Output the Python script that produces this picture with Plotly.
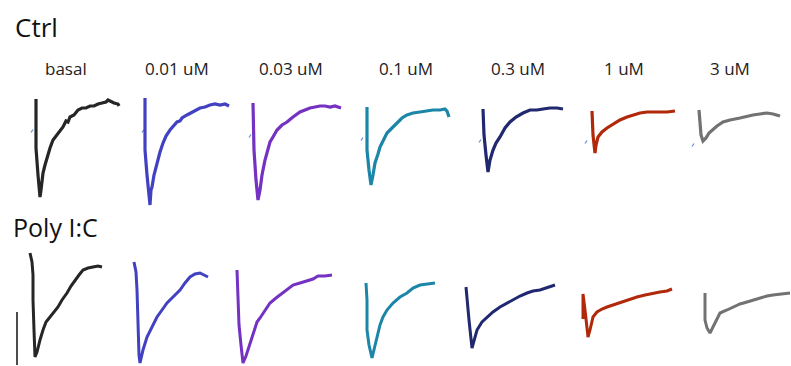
import plotly.graph_objects as go

W, H = 791, 366

# ---------------- data (time in ms from stimulus, current in pA) ----------------
conditions = ["basal", "0.01 uM", "0.03 uM", "0.1 uM", "0.3 uM", "1 uM", "3 uM"]
colors = ["#262626", "#4141c2", "#7431c2", "#1b86a8", "#20286f", "#b1290a", "#727272"]

# Ctrl row
ctrl_basal_t = [0, 0, 2, 4, 5, 7, 9, 12, 14, 17, 20, 22, 24, 27, 30, 32, 34, 38, 42, 46, 50, 54, 58, 62, 66, 70, 72, 74, 78, 82, 83]
ctrl_basal_pA = [320, -170, -440, -660, -590, -420, -340, -220, -170, -90, -50, -30, 10, 40, 100, 90, 140, 160, 210, 230, 230, 250, 250, 270, 280, 290, 310, 300, 280, 270, 250]
ctrl_001_t = [0, 0, 2, 4, 5, 6, 7, 9, 12, 15, 18, 21, 25, 28, 32, 35, 37, 42, 47, 51, 55, 60, 65, 70, 75, 80, 84]
ctrl_001_pA = [330, -190, -440, -640, -740, -590, -560, -440, -320, -210, -120, -50, 10, 40, 90, 100, 130, 160, 190, 210, 230, 240, 260, 270, 260, 270, 250]
ctrl_003_t = [0, 1, 3, 5, 7, 9, 12, 15, 17, 20, 24, 29, 34, 40, 47, 52, 57, 62, 67, 72, 77, 82, 88]
ctrl_003_pA = [280, -190, -490, -690, -590, -440, -290, -190, -110, -60, 10, 60, 90, 140, 190, 210, 230, 240, 250, 250, 240, 250, 230]
ctrl_01_t = [0, 0, 2, 4, 6, 8, 11, 13, 17, 20, 25, 30, 35, 40, 46, 53, 60, 66, 73, 78, 80, 82]
ctrl_01_pA = [240, -190, -390, -540, -440, -320, -230, -160, -80, -20, 30, 80, 130, 160, 180, 190, 200, 210, 210, 220, 200, 140]
ctrl_03_t = [0, 1, 3, 5, 7, 10, 13, 17, 22, 27, 33, 40, 47, 54, 60, 67, 74, 80]
ctrl_03_pA = [220, -40, -240, -410, -290, -190, -120, -60, 30, 90, 140, 180, 210, 210, 220, 230, 230, 220]
ctrl_1_t = [0, 1, 3, 4, 6, 10, 15, 21, 28, 35, 41, 48, 55, 61, 68, 75, 83]
ctrl_1_pA = [200, -40, -220, -140, -60, -10, 30, 70, 110, 140, 160, 180, 190, 190, 190, 190, 200]
ctrl_3_t = [0, 1, 2, 4, 7, 10, 13, 18, 24, 31, 41, 48, 54, 61, 68, 74, 81]
ctrl_3_pA = [210, 60, -40, -100, -70, -20, 10, 50, 90, 110, 130, 150, 160, 170, 180, 170, 150]

# stimulus artifact marks (Ctrl row)
ctrl_artifact_t = [-4, -2, -3, -5, -3, -6, -6]
ctrl_artifact_pA = [0, 0, -50, -80, -100, -110, -140]

# Poly I:C row
poly_basal_t = [0, 2, 3, 3, 4, 5, 5, 7, 8, 10, 13, 16, 20, 24, 28, 32, 37, 41, 45, 49, 53, 58, 63, 68, 72]
poly_basal_pA = [370, 280, 150, -100, -400, -600, -670, -620, -570, -500, -400, -320, -270, -220, -170, -100, -30, 40, 100, 150, 200, 220, 230, 240, 230]
poly_001_t = [0, 2, 3, 4, 5, 6, 9, 13, 18, 23, 28, 33, 39, 46, 51, 56, 61, 66, 70, 74]
poly_001_pA = [280, 180, 0, -400, -650, -730, -600, -470, -370, -270, -200, -130, -70, 0, 70, 130, 160, 170, 150, 130]
poly_003_t = [0, 1, 2, 4, 6, 9, 11, 15, 20, 23, 28, 33, 39, 46, 51, 56, 63, 70, 76, 81, 88, 95]
poly_003_pA = [200, -100, -350, -550, -730, -660, -600, -470, -320, -280, -200, -130, -80, -30, 10, 50, 70, 90, 110, 140, 140, 150]
poly_01_t = [0, 1, 1, 3, 6, 8, 11, 14, 17, 21, 27, 34, 41, 47, 54, 61, 69]
poly_01_pA = [70, -100, -400, -550, -680, -600, -470, -350, -270, -200, -130, -70, -30, 20, 50, 60, 70]
poly_03_t = [0, 1, 3, 6, 8, 11, 16, 21, 27, 34, 41, 47, 54, 61, 67, 74, 81, 89]
poly_03_pA = [30, -100, -300, -580, -500, -400, -320, -270, -220, -170, -130, -100, -60, -30, -10, 0, 20, 50]
poly_1_t = [0, 0, 2, 4, 5, 7, 10, 14, 19, 24, 30, 37, 45, 54, 62, 70, 77, 84, 89]
poly_1_pA = [-290, -40, -200, -380, -470, -400, -270, -220, -190, -170, -150, -120, -100, -70, -50, -30, -20, -10, 10]
poly_3_t = [0, 0, 2, 5, 8, 12, 15, 22, 28, 35, 42, 48, 55, 62, 68, 75, 81, 85]
poly_3_pA = [-30, -300, -380, -430, -370, -280, -230, -200, -170, -140, -120, -100, -80, -60, -50, -40, -30, -30]

# scale bar (pA) drawn left of the Poly I:C basal trace
scalebar_t = -13
scalebar_pA = [-220, -750]

ctrl_t = [ctrl_basal_t, ctrl_001_t, ctrl_003_t, ctrl_01_t, ctrl_03_t, ctrl_1_t, ctrl_3_t]
ctrl_pA = [ctrl_basal_pA, ctrl_001_pA, ctrl_003_pA, ctrl_01_pA, ctrl_03_pA, ctrl_1_pA, ctrl_3_pA]
poly_t = [poly_basal_t, poly_001_t, poly_003_t, poly_01_t, poly_03_t, poly_1_t, poly_3_t]
poly_pA = [poly_basal_pA, poly_001_pA, poly_003_pA, poly_01_pA, poly_03_pA, poly_1_pA, poly_3_pA]

# ---------------- layout (pixel placement of panels) ----------------
ctrl_onset_px = [36, 145, 253, 367, 483, 592, 699]
poly_onset_px = [30, 134, 237, 366, 466, 583, 705]
ms_per_px = 1.0
pA_per_px = 10.0
ctrl_base_px = 131
poly_base_px = 290
ctrl_band = (90, 215)
poly_band = (245, 366)
label_x_px = [66, 177, 291, 406, 518, 624, 730]

fig = go.Figure()
layout = dict(
    width=W, height=H, margin=dict(l=0, r=0, t=0, b=0),
    paper_bgcolor="white", plot_bgcolor="rgba(0,0,0,0)", showlegend=False,
)

def add_axes(idx, onset_px, base_px, band, t_lo=-10):
    t_hi = min(100, (W - onset_px) * ms_per_px)
    x0 = (onset_px + t_lo / ms_per_px) / W
    x1 = (onset_px + t_hi / ms_per_px) / W
    y_top = (base_px - band[0]) * pA_per_px
    y_bot = (base_px - band[1]) * pA_per_px
    sfx = "" if idx == 1 else str(idx)
    layout["xaxis" + sfx] = dict(domain=[max(0, x0), min(1, x1)], range=[t_lo, t_hi], visible=False,
                                 anchor="y" + sfx, fixedrange=True)
    layout["yaxis" + sfx] = dict(domain=[1 - band[1] / H, 1 - band[0] / H], range=[y_bot, y_top], visible=False,
                                 anchor="x" + sfx, fixedrange=True)
    return "x" + sfx, "y" + sfx

for i in range(7):
    xa, ya = add_axes(i + 1, ctrl_onset_px[i], ctrl_base_px, ctrl_band)
    fig.add_trace(go.Scatter(x=[ctrl_artifact_t[i] - 1, ctrl_artifact_t[i] + 1],
                             y=[ctrl_artifact_pA[i] - 15, ctrl_artifact_pA[i] + 15],
                             mode="lines", line=dict(color="#5a8ed8", width=1.2),
                             xaxis=xa, yaxis=ya, hoverinfo="skip"))
    fig.add_trace(go.Scatter(x=ctrl_t[i], y=ctrl_pA[i], mode="lines",
                             line=dict(color=colors[i], width=3.2), name="Ctrl " + conditions[i],
                             xaxis=xa, yaxis=ya))

for i in range(7):
    t_lo = -16 if i == 0 else -10
    xa, ya = add_axes(i + 8, poly_onset_px[i], poly_base_px, poly_band, t_lo=t_lo)
    fig.add_trace(go.Scatter(x=poly_t[i], y=poly_pA[i], mode="lines",
                             line=dict(color=colors[i], width=3.0), name="Poly I:C " + conditions[i],
                             xaxis=xa, yaxis=ya))
    if i == 0:
        fig.add_trace(go.Scatter(x=[scalebar_t, scalebar_t], y=scalebar_pA, mode="lines",
                                 line=dict(color="#111111", width=1.5), xaxis=xa, yaxis=ya,
                                 hoverinfo="skip"))

font_family = "Open Sans, Noto Sans, sans-serif"
annotations = [
    dict(text="Ctrl", x=13 / W, y=1 - 27 / H, xref="paper", yref="paper", xanchor="left", yanchor="middle",
         showarrow=False, font=dict(size=26, color="#111111", family=font_family)),
    dict(text="Poly I:C", x=11 / W, y=1 - 227 / H, xref="paper", yref="paper", xanchor="left", yanchor="middle",
         showarrow=False, font=dict(size=25, color="#111111", family=font_family)),
]
for i, c in enumerate(conditions):
    annotations.append(dict(text=c, x=label_x_px[i] / W, y=1 - 68 / H, xref="paper", yref="paper",
                            xanchor="center", yanchor="middle", showarrow=False,
                            font=dict(size=17, color="#222222", family=font_family)))
layout["annotations"] = annotations

fig.update_layout(**layout)
fig.write_html("out.html")
